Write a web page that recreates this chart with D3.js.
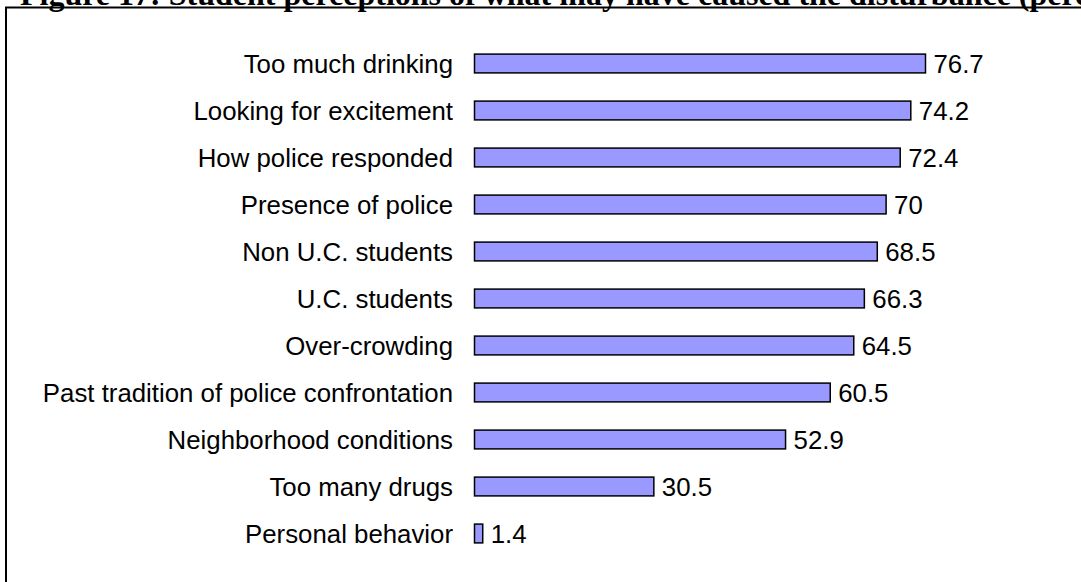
<!DOCTYPE html>
<html lang="en">
	<head>
		<meta charset="UTF-8" />
		<title>Figure 17</title>
		<style>
			html,
			body {
				margin: 0;
				padding: 0;
				width: 100%;
				height: 100%;
				overflow: hidden;
				background-color: #fff;
			}
			#chart {
				position: absolute;
				top: 0;
				left: 0;
			}
		</style>
	</head>
	<body>
		<svg id="chart"></svg>

		<script src="https://d3js.org/d3.v7.min.js"></script>

		<script>
			const categories = [
				'Too much drinking',
				'Looking for excitement',
				'How police responded',
				'Presence of police',
				'Non U.C. students',
				'U.C. students',
				'Over-crowding',
				'Past tradition of police confrontation',
				'Neighborhood conditions',
				'Too many drugs',
				'Personal behavior'
			];
			const values = [76.7, 74.2, 72.4, 70, 68.5, 66.3, 64.5, 60.5, 52.9, 30.5, 1.4];
			const valueLabels = ['76.7', '74.2', '72.4', '70', '68.5', '66.3', '64.5', '60.5', '52.9', '30.5', '1.4'];
			const title = 'Figure 17: Student perceptions of what may have caused the disturbance (percent)';

			const width = 1081;
			const height = 582;
			const svg = d3.select('#chart').attr('width', width).attr('height', height);

			// title, cut at the top like the page scan
			svg.append('text')
				.attr('x', 20)
				.attr('y', 5)
				.attr('font-family', "'Liberation Serif', 'Times New Roman', serif")
				.attr('font-weight', 'bold')
				.attr('font-size', 32)
				.attr('fill', '#000')
				.text(title);

			// frame around the chart area
			svg.append('rect')
				.attr('x', 6)
				.attr('y', 7.5)
				.attr('width', width + 10)
				.attr('height', height + 10)
				.attr('fill', 'none')
				.attr('stroke', '#000')
				.attr('stroke-width', 2);

			const x = d3.scaleLinear().domain([0, 100]).range([474.5, 474.5 + 588]);
			const y = d3
				.scaleBand()
				.domain(categories)
				.range([40, 557])
				.paddingInner(0.6)
				.paddingOuter(0.3);

			const g = svg.append('g');

			g.selectAll('rect.bar')
				.data(values)
				.join('rect')
				.attr('class', 'bar')
				.attr('x', x(0))
				.attr('y', (d, i) => y(categories[i]))
				.attr('width', (d) => x(d) - x(0))
				.attr('height', y.bandwidth())
				.attr('fill', '#9999ff')
				.attr('stroke', '#000')
				.attr('stroke-width', 1.5);

			g.selectAll('text.cat')
				.data(categories)
				.join('text')
				.attr('class', 'cat')
				.attr('x', 453)
				.attr('y', (d) => y(d) + y.bandwidth() / 2)
				.attr('dy', '0.36em')
				.attr('text-anchor', 'end')
				.attr('font-family', "'Liberation Sans', Arial, sans-serif")
				.attr('font-size', 25.8)
				.attr('fill', '#000')
				.text((d) => d);

			g.selectAll('text.val')
				.data(values)
				.join('text')
				.attr('class', 'val')
				.attr('x', (d) => x(d) + 8)
				.attr('y', (d, i) => y(categories[i]) + y.bandwidth() / 2)
				.attr('dy', '0.36em')
				.attr('font-family', "'Liberation Sans', Arial, sans-serif")
				.attr('font-size', 25.8)
				.attr('fill', '#000')
				.text((d, i) => valueLabels[i]);
		</script>
	</body>
</html>
